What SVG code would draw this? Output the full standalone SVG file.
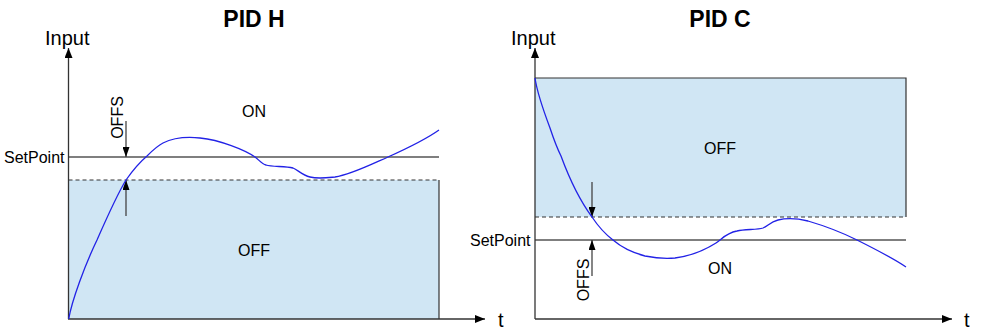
<svg xmlns="http://www.w3.org/2000/svg" width="981" height="328" viewBox="0 0 981 328">
<defs>
<marker id="ah" viewBox="0 0 10 8" refX="10" refY="4" markerWidth="10" markerHeight="8" markerUnits="userSpaceOnUse" orient="auto">
<path d="M0,0 L10,4 L0,8 Z" fill="#000"/>
</marker>
<marker id="oh" viewBox="0 0 10 7" refX="10" refY="3.5" markerWidth="10" markerHeight="7" markerUnits="userSpaceOnUse" orient="auto">
<path d="M0,0 L10,3.5 L0,7 Z" fill="#000"/>
</marker>
</defs>
<style>
text{font-family:"Liberation Sans",Arial,sans-serif;fill:#000}
.title{font-size:23px;font-weight:bold;text-anchor:middle}
.ax{font-size:20px}
.lbl{font-size:16px}
.mid{text-anchor:middle}
.zone{fill:#d0e6f4;stroke:none}
.edge{stroke:#333;stroke-width:1.2;fill:none}
.dash{stroke:#333;stroke-width:1.2;stroke-dasharray:4,3;fill:none}
.axis{stroke:#333;stroke-width:1.3;fill:none;marker-end:url(#ah)}
.sp{stroke:#000;stroke-width:1.1;fill:none}
.offs{stroke:#444;stroke-width:1.3;fill:none;marker-end:url(#oh)}
.curve{stroke:#2222e6;stroke-width:1.3;fill:none}
</style>

<g id="pidH">
<text class="title" x="254" y="27">PID H</text>
<rect class="zone" x="68.5" y="180" width="370.5" height="139"/>
<line class="dash" x1="68.5" y1="180" x2="439" y2="180"/>
<line class="edge" x1="439" y1="180" x2="439" y2="319"/>
<line class="sp" x1="68.5" y1="157" x2="439" y2="157"/>
<text class="ax" x="45" y="45">Input</text>
<text class="lbl" x="4" y="162.5">SetPoint</text>
<text class="lbl mid" x="254" y="116.5">ON</text>
<text class="lbl mid" x="254" y="256">OFF</text>
<text class="lbl mid" transform="translate(122.5,117.5) rotate(-90)">OFFS</text>
<text class="ax" x="498" y="327">t</text>
</g>

<g id="pidC">
<text class="title" x="720" y="27">PID C</text>
<rect class="zone" x="535" y="78" width="371" height="139"/>
<path class="edge" d="M535,78 H906 V217"/>
<line class="dash" x1="535" y1="217" x2="906" y2="217"/>
<line class="sp" x1="535" y1="240" x2="906" y2="240"/>
<text class="ax" x="511" y="45">Input</text>
<text class="lbl" x="470" y="245.5">SetPoint</text>
<text class="lbl mid" x="720" y="154">OFF</text>
<text class="lbl mid" x="720" y="273.5">ON</text>
<text class="lbl mid" transform="translate(589,280) rotate(-90)">OFFS</text>
<text class="ax" x="964" y="327">t</text>
</g>

<g id="connectors">
<line class="axis" x1="68.5" y1="319" x2="68.5" y2="48"/>
<line class="axis" x1="68" y1="319" x2="485" y2="319"/>
<line class="axis" x1="535" y1="319" x2="535" y2="48"/>
<line class="axis" x1="535" y1="319" x2="952" y2="319"/>
<line class="offs" x1="126" y1="121" x2="126" y2="157"/>
<line class="offs" x1="126" y1="216" x2="126" y2="180"/>
<line class="offs" x1="592" y1="182" x2="592" y2="217"/>
<line class="offs" x1="592" y1="276" x2="592" y2="240"/>
<path class="curve" d="M68.7,319 C72,300 85,265 97,240 C108,215 118,193 126,180 C133,170 140,162 147,156 C152,151 157,146 163,143 C175,137 190,137 200,138 C220,140 245,150 255,157 C259,160 262,164 266,165 C272,167 285,166 293,168 C298,170 302,175 310,177 C318,179 325,178 335,177 C350,175 370,165 388,157 C408,148 425,140 439,130"/>
<path class="curve" d="M535,78 C537,92 544,112 550,128 C554,140 557,148 561,156 C568,175 578,198 592,217 C598,226 605,234 613,240 C620,246 630,252 645,256 C655,258 665,259 675,258 C690,256 705,250 716,243 C722,239 726,233 737,231 C745,229 757,230 763,228 C768,226 770,222 778,220 C786,218 796,218 808,221 C825,226 845,234 857,240 C875,249 893,258 906,267"/>
</g>
</svg>
